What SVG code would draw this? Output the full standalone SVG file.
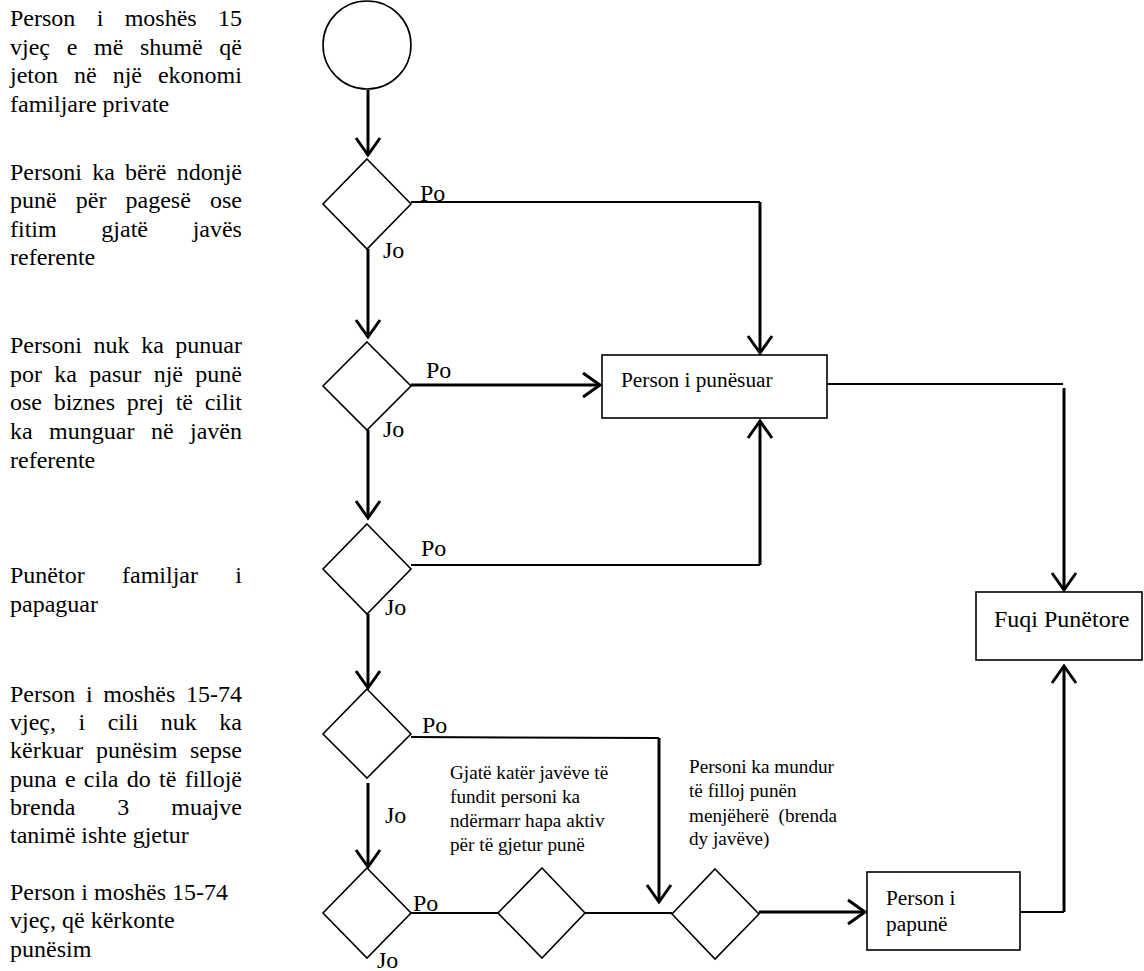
<svg xmlns="http://www.w3.org/2000/svg" width="1144" height="971" viewBox="0 0 1144 971">
<style>
  text { font-family: "Liberation Serif", "Times New Roman", serif; fill: #000; }
  .side { font-size: 24px; }
  .lbl { font-size: 24px; }
  .box { font-size: 21.33px; }
  .cap { font-size: 19.2px; }
  .shape { fill: #fff; stroke: #000; stroke-width: 1.6; }
  .thin { fill: none; stroke: #000; stroke-width: 2; }
  .thick { fill: none; stroke: #000; stroke-width: 3; }
  .arr { marker-end: url(#chev); }
</style>
<defs>
  <marker id="chev" markerUnits="userSpaceOnUse" viewBox="-20 -15 22 30" markerWidth="22" markerHeight="30" refX="0" refY="0" orient="auto" overflow="visible">
    <path d="M-17,-12 L0,0 L-17,12" fill="none" stroke="#000" stroke-width="3"/>
  </marker>
</defs>
<rect width="1144" height="971" fill="#fff"/>

<g id="side-text" class="side">
  <text x="10" y="26" word-spacing="15.33">Person i moshës 15</text>
  <text x="10" y="55" word-spacing="10.68">vjeç e më shumë që</text>
  <text x="10" y="83" word-spacing="10">jeton në një ekonomi</text>
  <text x="10" y="112">familjare private</text>

  <text x="10" y="180" word-spacing="4.23">Personi ka bërë ndonjë</text>
  <text x="10" y="208" word-spacing="13.13">punë për pagesë ose</text>
  <text x="10" y="237" word-spacing="38.67">fitim gjatë javës</text>
  <text x="10" y="265">referente</text>

  <text x="10" y="353" word-spacing="5.57">Personi nuk ka punuar</text>
  <text x="10" y="382" word-spacing="6.35">por ka pasur një punë</text>
  <text x="10" y="410" word-spacing="5.68">ose biznes prej të cilit</text>
  <text x="10" y="439" word-spacing="10.47">ka munguar në javën</text>
  <text x="10" y="468">referente</text>

  <text x="10" y="583" word-spacing="31.35">Punëtor familjar i</text>
  <text x="10" y="612">papaguar</text>

  <text x="10" y="702" word-spacing="4.67">Person i moshës 15-74</text>
  <text x="10" y="730" word-spacing="16.5">vjeç, i cili nuk ka</text>
  <text x="10" y="758" word-spacing="6.7">kërkuar punësim sepse</text>
  <text x="10" y="787" word-spacing="2.28">puna e cila do të fillojë</text>
  <text x="10" y="815" word-spacing="36">brenda 3 muajve</text>
  <text x="10" y="843">tanimë ishte gjetur</text>

  <text x="10" y="900">Person i moshës 15-74</text>
  <text x="10" y="928">vjeç, që kërkonte</text>
  <text x="10" y="957">punësim</text>
</g>

<g id="connectors">
  <path class="thick arr" d="M368,90 V155"/>
  <path class="thick arr" d="M368,249 V337"/>
  <path class="thick arr" d="M368,430 V518"/>
  <path class="thick arr" d="M368,614 V688"/>
  <path class="thick arr" d="M368,783 V867"/>

  <path class="thin" d="M411,202 H760"/>
  <path class="thick arr" d="M760,202 V353"/>

  <path class="thick arr" d="M411,385 H600"/>

  <path class="thin" d="M411,565 H760"/>
  <path class="thick arr" d="M760,565 V421"/>

  <path class="thin" d="M827,384 H1063"/>
  <path class="thick arr" d="M1064,388 V590"/>

  <path class="thin" d="M411,737 L659,738"/>
  <path class="thick arr" d="M659,738 V902"/>

  <path class="thin" d="M411,913 H498"/>
  <path class="thin" d="M585,913 H672"/>
  <path class="thick arr" d="M759,912 H865"/>

  <path class="thin" d="M1020,912 H1064"/>
  <path class="thick arr" d="M1064,912 V666"/>
</g>

<g id="start">
  <circle class="shape" cx="367" cy="45" r="44"/>
</g>

<g id="d1">
  <polygon class="shape" points="367,159 411,204 367,249 323,204"/>
  <text class="lbl" x="420" y="201">Po</text>
  <text class="lbl" x="383" y="258">Jo</text>
</g>
<g id="d2">
  <polygon class="shape" points="367,342 411,386 367,430 323,386"/>
  <text class="lbl" x="426" y="378">Po</text>
  <text class="lbl" x="383" y="437">Jo</text>
</g>
<g id="d3">
  <polygon class="shape" points="367,524 411,569 367,614 323,569"/>
  <text class="lbl" x="421" y="556">Po</text>
  <text class="lbl" x="385" y="615">Jo</text>
</g>
<g id="d4">
  <polygon class="shape" points="367,689 411,734 367,778 323,734"/>
  <text class="lbl" x="422" y="733">Po</text>
  <text class="lbl" x="385" y="823">Jo</text>
</g>
<g id="d5">
  <polygon class="shape" points="367,868 411,913 367,958 323,913"/>
  <text class="lbl" x="413" y="911">Po</text>
  <text class="lbl" x="377" y="968">Jo</text>
</g>
<g id="d6">
  <polygon class="shape" points="542,868 585,913 542,958 498,913"/>
  <g class="cap">
    <text x="450" y="779">Gjatë katër javëve të</text>
    <text x="450" y="803">fundit personi ka</text>
    <text x="450" y="827">ndërmarr hapa aktiv</text>
    <text x="450" y="851">për të gjetur punë</text>
  </g>
</g>
<g id="d7">
  <polygon class="shape" points="715,869 759,914 715,959 672,914"/>
  <g class="cap">
    <text x="689" y="773">Personi ka mundur</text>
    <text x="689" y="797">të filloj punën</text>
    <text x="689" y="822" xml:space="preserve">menjëherë  (brenda</text>
    <text x="689" y="845">dy javëve)</text>
  </g>
</g>

<g id="employed">
  <rect class="shape" x="602" y="355" width="225" height="63"/>
  <text class="box" x="621" y="387">Person i punësuar</text>
</g>
<g id="unemployed">
  <rect class="shape" x="867" y="872" width="153" height="78"/>
  <text class="box" x="886" y="905">Person i</text>
  <text class="box" x="886" y="931">papunë</text>
</g>
<g id="labour-force">
  <rect class="shape" x="976" y="592" width="166" height="68"/>
  <text class="lbl" x="994" y="627">Fuqi Punëtore</text>
</g>
</svg>
